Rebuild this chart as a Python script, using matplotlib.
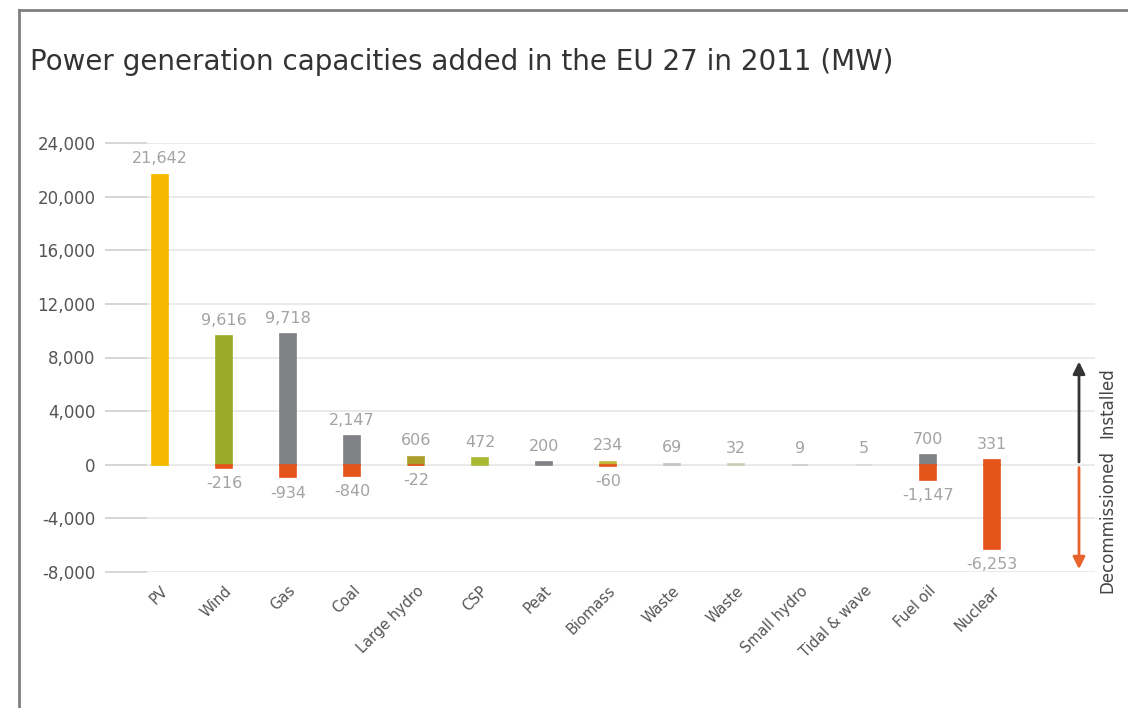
import matplotlib.pyplot as plt
from matplotlib.lines import Line2D

plt.rcParams['font.family'] = ['DejaVu Sans']

categorias = ["PV", "Wind", "Gas", "Coal", "Large hydro", "CSP", "Peat", "Biomass",
              "Waste", "Waste", "Small hydro", "Tidal & wave", "Fuel oil", "Nuclear"]
instalado = [21642, 9616, 9718, 2147, 606, 472, 200, 234, 69, 32, 9, 5, 700, 331]
desativado = [0, -216, -934, -840, -22, 0, 0, -60, 0, 0, 0, 0, -1147, -6253]
cores = ["#f7b900", "#9baa2a", "#808285", "#808285", "#ab9c2c", "#a9b934", "#808285",
         "#c4b53c", "#c4c4c4", "#cacdb6", "#cccccc", "#d8d8d8", "#808285", "#e5541b"]
cor_desativado = "#e5541b"
yticks = [-8000, -4000, 0, 4000, 8000, 12000, 16000, 20000, 24000]

fig = plt.figure(figsize=(11.28, 7.08), dpi=100)
ax = fig.add_axes([105 / 1128, 1 - 572 / 708, 990 / 1128, 429 / 708])

x = list(range(len(categorias)))
for i in x:
    ax.bar(i, instalado[i], width=0.25, color=cores[i], edgecolor=cores[i], linewidth=1.2, zorder=3)
    if desativado[i] < 0:
        ax.bar(i, desativado[i], width=0.25, color=cor_desativado, edgecolor=cor_desativado,
               linewidth=1.2, zorder=3)

# rotulos de valores
for i in x:
    ax.annotate("{:,}".format(instalado[i]), (i, instalado[i]), xytext=(0, 6),
                textcoords="offset points", ha="center", va="bottom",
                fontsize=11.5, color="#a3a3a3")
    if desativado[i] < 0:
        ax.annotate("{:,}".format(desativado[i]), (i, desativado[i]), xytext=(0, -6),
                    textcoords="offset points", ha="center", va="top",
                    fontsize=11.5, color="#a3a3a3")

ax.set_xlim(-0.86, 14.61)
ax.set_ylim(-8000, 24000)
ax.set_yticks(yticks)
ax.set_yticklabels(["{:,}".format(v) for v in yticks], fontsize=12, color="#555555")
ax.set_xticks(x)
ax.set_xticklabels(categorias, rotation=45, ha="right", rotation_mode="anchor",
                   fontsize=10.5, color="#555555")
ax.tick_params(axis="x", length=0, pad=8)
ax.tick_params(axis="y", direction="in", length=30, width=1.3, color="#d4d4d4", pad=7)
ax.grid(axis="y", color="#e8e8e8", linewidth=1.3, zorder=0)
for s in ax.spines.values():
    s.set_visible(False)

# seta instalado / desativado
xs = 14.36
ax.annotate("", xy=(xs, 7900), xytext=(xs, 0),
            arrowprops=dict(arrowstyle="-|>", color="#333333", lw=2, mutation_scale=18),
            annotation_clip=False)
ax.annotate("", xy=(xs, -8000), xytext=(xs, 0),
            arrowprops=dict(arrowstyle="-|>", color="#e8642c", lw=2, mutation_scale=18),
            annotation_clip=False)
ax.text(14.8, 4600, "Installed", rotation=90, ha="center", va="center",
        fontsize=12, color="#444444", clip_on=False)
ax.text(14.8, -4270, "Decommissioned", rotation=90, ha="center", va="center",
        fontsize=12, color="#444444", clip_on=False)

fig.text(30 / 1128, 1 - 62 / 708, "Power generation capacities added in the EU 27 in 2011 (MW)",
         fontsize=20, color="#333333", ha="left", va="center")

# moldura
fig.add_artist(Line2D([19 / 1128, 19 / 1128], [0, 1 - 10 / 708], color="#808080", lw=2))
fig.add_artist(Line2D([19 / 1128, 1], [1 - 10 / 708, 1 - 10 / 708], color="#808080", lw=2))

fig.savefig("out.png", dpi=100)
